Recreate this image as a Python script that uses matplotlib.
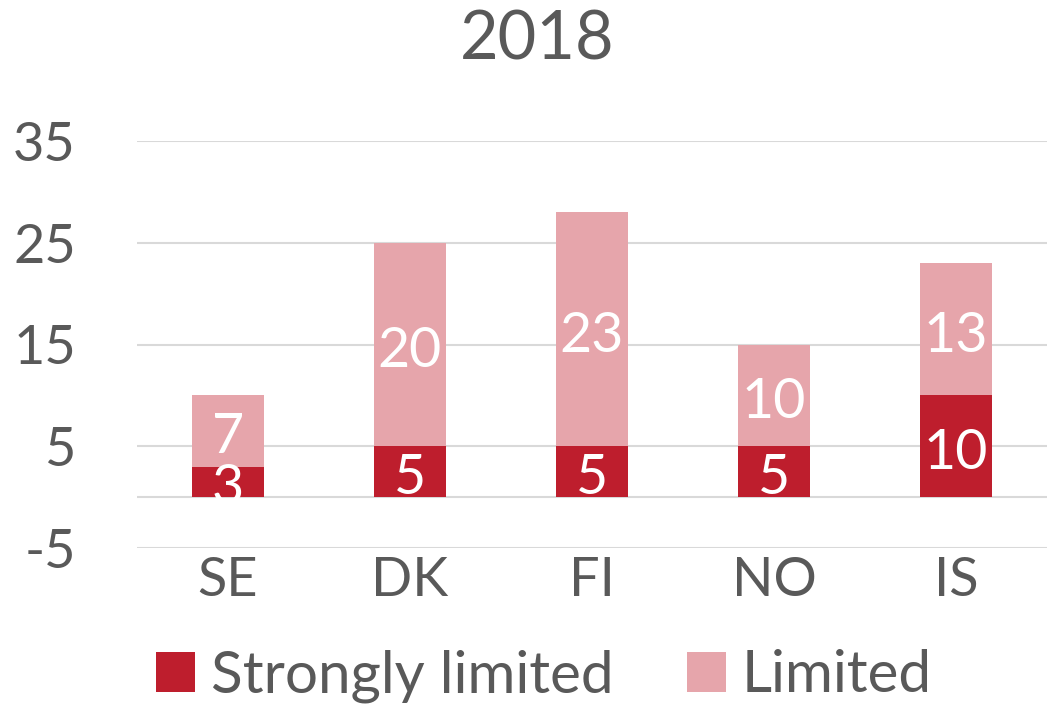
import matplotlib
matplotlib.use("Agg")
import matplotlib.pyplot as plt
from matplotlib.patches import Patch

categories = ["SE", "DK", "FI", "NO", "IS"]
strongly_limited = [3, 5, 5, 5, 10]
limited = [7, 20, 23, 10, 13]
y_ticks = [-5, 5, 15, 25, 35]
title = "2018"

dark = "#BE1E2D"
light = "#E6A5AB"
txt = "#595959"
grid = "#D9D9D9"

plt.rcParams['font.family'] = ['Lato', 'DejaVu Sans']
plt.rcParams['axes.unicode_minus'] = False

fig = plt.figure(figsize=(10.5, 7.14), dpi=100)
ax = fig.add_axes([137/1050, 1-548/714, 910/1050, (548-141)/714])

x = list(range(len(categories)))
b1 = ax.bar(x, strongly_limited, width=0.4, color=dark, zorder=3, label="Strongly limited")
b2 = ax.bar(x, limited, width=0.4, bottom=strongly_limited, color=light, zorder=3, label="Limited")
for b in (b1, b2):
    anns = ax.bar_label(b, label_type='center', color='white', fontsize=40)
    for a in anns:
        a.xyann = (0, -5)

ax.set_xlim(-0.5, len(categories) - 0.5)
ax.set_ylim(-5, 35)
ax.set_yticks(y_ticks)
ax.set_xticks(x)
ax.set_xticklabels(categories)
for yv in y_ticks:
    ax.axhline(yv, color=grid, lw=1.5, zorder=1)
ax.axhline(0, color=grid, lw=1.5, zorder=1)
for s in ax.spines.values():
    s.set_visible(False)
ax.tick_params(axis='y', length=0, pad=44, labelsize=39, labelcolor=txt)
ax.tick_params(axis='x', length=0, pad=6, labelsize=39, labelcolor=txt)
for lbl in ax.get_yticklabels():
    lbl.set_horizontalalignment('right')

fig.text(537/1050, 1-40/714, title, ha='center', va='center', fontsize=48, color=txt)

handles = [Patch(facecolor=dark), Patch(facecolor=light)]
leg = fig.legend(handles, ["Strongly limited", "Limited"], loc='center',
                 bbox_to_anchor=(544/1050, 1-676/714), ncol=2, frameon=False,
                 fontsize=42, handlelength=0.67, handleheight=0.67,
                 handletextpad=0.28, columnspacing=1.25, borderpad=0)
for t in leg.get_texts():
    t.set_color(txt)

fig.savefig("out.png", dpi=100)
